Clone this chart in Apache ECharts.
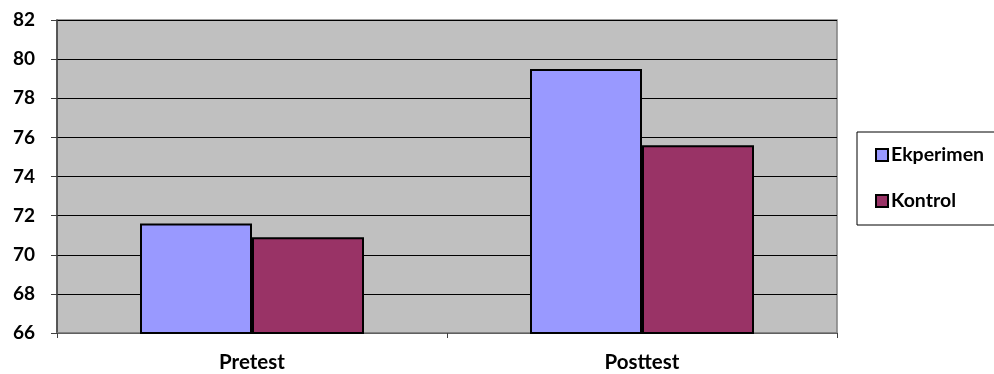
<!DOCTYPE html>
<html>
<head>
<meta charset="utf-8">
<script src="https://cdn.jsdelivr.net/npm/echarts@6/dist/echarts.min.js"></script>
<style>
  html, body { margin: 0; padding: 0; background: #fff; }
  #chart { width: 994px; height: 374px; }
</style>
</head>
<body>
<div id="chart"></div>
<script>
// Mean scores per test phase for the two groups
const categories = ['Pretest', 'Posttest'];
const ekperimen = [71.6, 79.5];
const kontrol = [70.9, 75.6];
const yTicks = { min: 66, max: 82, interval: 2 };

const font = 'Lato, "Open Sans", sans-serif';

const chart = echarts.init(document.getElementById('chart'));
chart.setOption({
  animation: false,
  grid: {
    left: 57, right: 157, top: 20, bottom: 41,
    show: true,
    backgroundColor: '#C0C0C0',
    borderColor: '#808080',
    borderWidth: 1.5
  },
  legend: {
    orient: 'vertical',
    left: 857, top: 132,
    padding: [13, 11, 14, 18],
    itemWidth: 12, itemHeight: 12,
    itemGap: 26,
    icon: 'rect',
    backgroundColor: '#fff',
    borderColor: '#000',
    borderWidth: 1,
    itemStyle: { borderColor: '#000', borderWidth: 2 },
    textStyle: { fontFamily: font, fontWeight: 'bold', fontSize: 19.5, color: '#000', lineHeight: 20, padding: [0, 0, 0, -2] },
    data: ['Ekperimen', 'Kontrol']
  },
  xAxis: {
    type: 'category',
    data: categories,
    axisLine: { lineStyle: { color: '#808080', width: 1.5 } },
    axisTick: { show: true, length: 5, lineStyle: { color: '#404040' } },
    axisLabel: { fontFamily: font, fontWeight: 'bold', fontSize: 20.5, color: '#000', margin: 19 },
    splitLine: { show: false }
  },
  yAxis: {
    type: 'value',
    min: yTicks.min, max: yTicks.max, interval: yTicks.interval,
    axisLine: { show: true, lineStyle: { color: '#404040', width: 1.5 } },
    axisTick: { show: true, length: 6, lineStyle: { color: '#404040' } },
    axisLabel: { fontFamily: font, fontWeight: 'bold', fontSize: 19, color: '#000', margin: 22 },
    splitLine: { show: true, lineStyle: { color: '#000', width: 1 } }
  },
  series: [
    {
      name: 'Ekperimen', type: 'bar', data: ekperimen,
      barWidth: 112, barGap: '0%',
      itemStyle: { color: '#9999FF', borderColor: '#000', borderWidth: 2 }
    },
    {
      name: 'Kontrol', type: 'bar', data: kontrol,
      barWidth: 112, barGap: '0%',
      itemStyle: { color: '#993366', borderColor: '#000', borderWidth: 2 }
    }
  ]
});
</script>
</body>
</html>
